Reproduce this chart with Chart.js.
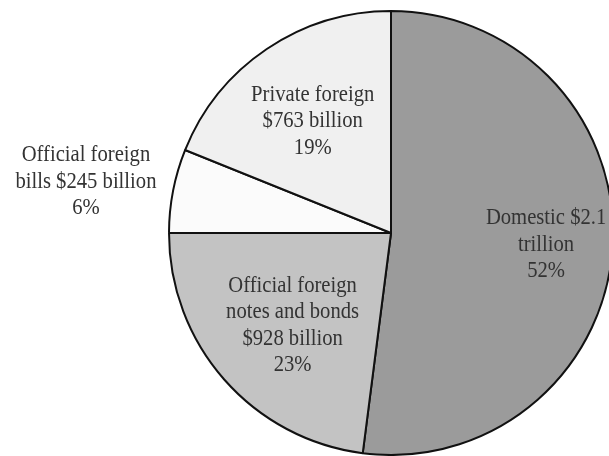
<!DOCTYPE html>
<html>
<head>
<meta charset="utf-8">
<script src="https://cdn.jsdelivr.net/npm/chart.js@4"></script>
<style>
  html, body { margin: 0; padding: 0; background: #ffffff; }
  #wrap { width: 609px; height: 456px; position: relative; }
</style>
</head>
<body>
<div id="wrap"><canvas id="pie" width="609" height="456"></canvas></div>
<script>
// Holdings of U.S. Treasury securities, billions of dollars
const categories = [
  'Domestic',
  'Official foreign notes and bonds',
  'Official foreign bills',
  'Private foreign'
];
const holdings = [2100, 928, 245, 763];
const sliceLabels = [
  ['Domestic $2.1', 'trillion', '52%'],
  ['Official foreign', 'notes and bonds', '$928 billion', '23%'],
  ['Official foreign', 'bills $245 billion', '6%'],
  ['Private foreign', '$763 billion', '19%']
];
const sliceColors = ['#9b9b9b', '#c3c3c3', '#fbfbfb', '#f0f0f0'];

// label layout: distance from the centre (share of radius) and a small vertical nudge
const labelLayout = [
  { r: 0.70, dy: 0 },
  { r: 0.59, dy: 4 },
  { r: 1.40, dy: 6 },
  { r: 0.63, dy: 2 }
];

const sliceText = {
  id: 'sliceText',
  afterDatasetsDraw(chart) {
    const ctx = chart.ctx;
    const arcs = chart.getDatasetMeta(0).data;
    const lh = 26.5;
    ctx.save();
    ctx.fillStyle = '#333333';
    ctx.font = '24px "Liberation Serif", "Times New Roman", serif';
    ctx.textAlign = 'center';
    ctx.textBaseline = 'alphabetic';
    arcs.forEach((arc, i) => {
      const p = arc.getProps(['x', 'y', 'startAngle', 'endAngle', 'outerRadius'], true);
      const mid = (p.startAngle + p.endAngle) / 2;
      const r = p.outerRadius * labelLayout[i].r;
      const cx = p.x + Math.cos(mid) * r;
      const cy = p.y + Math.sin(mid) * r + labelLayout[i].dy;
      const lines = sliceLabels[i];
      const first = cy - (lines.length - 1) / 2 * lh + 8;
      lines.forEach((t, k) => {
        ctx.save();
        ctx.translate(cx, first + k * lh);
        ctx.scale(0.86, 1);
        ctx.fillText(t, 0, 0);
        ctx.restore();
      });
    });
    ctx.restore();
  }
};

new Chart(document.getElementById('pie'), {
  type: 'pie',
  data: {
    labels: categories,
    datasets: [{
      data: holdings,
      backgroundColor: sliceColors,
      borderColor: '#111111',
      borderWidth: 2,
      radius: 222
    }]
  },
  options: {
    responsive: false,
    animation: false,
    rotation: 0,
    layout: { padding: { left: 173, right: 0, top: 10, bottom: 0 } },
    plugins: {
      legend: { display: false },
      tooltip: { enabled: false }
    }
  },
  plugins: [sliceText]
});
</script>
</body>
</html>
